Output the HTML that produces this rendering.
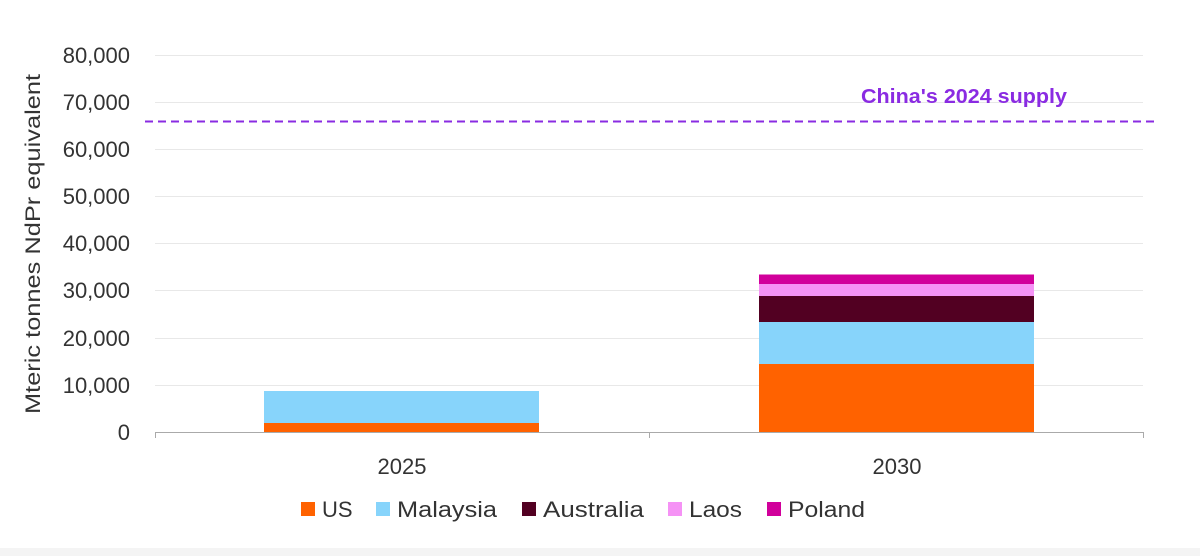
<!DOCTYPE html>
<html><head><style>
html,body{margin:0;padding:0;background:#fff;}
svg{display:block;font-family:"Liberation Sans",sans-serif;}
</style></head><body>
<svg width="1200" height="556" viewBox="0 0 1200 556" xmlns="http://www.w3.org/2000/svg">
<rect width="1200" height="556" fill="#fff"/>
<rect x="0" y="548" width="1200" height="8" fill="#f4f4f4"/>
<g stroke="#e8e8e8" stroke-width="1">
<line x1="155" x2="1143" y1="55.5" y2="55.5"/>
<line x1="155" x2="1143" y1="102.5" y2="102.5"/>
<line x1="155" x2="1143" y1="149.5" y2="149.5"/>
<line x1="155" x2="1143" y1="196.5" y2="196.5"/>
<line x1="155" x2="1143" y1="243.5" y2="243.5"/>
<line x1="155" x2="1143" y1="290.5" y2="290.5"/>
<line x1="155" x2="1143" y1="338.5" y2="338.5"/>
<line x1="155" x2="1143" y1="385.5" y2="385.5"/>
</g>
<g font-size="22" fill="#333" text-anchor="end">
<text x="130" y="63">80,000</text>
<text x="130" y="110">70,000</text>
<text x="130" y="157">60,000</text>
<text x="130" y="204">50,000</text>
<text x="130" y="251">40,000</text>
<text x="130" y="298">30,000</text>
<text x="130" y="346">20,000</text>
<text x="130" y="393">10,000</text>
<text x="130" y="440">0</text>
</g>
<text transform="translate(40,244) rotate(-90)" font-size="21" fill="#333" text-anchor="middle" textLength="340" lengthAdjust="spacingAndGlyphs">Mteric tonnes NdPr equivalent</text>
<rect x="264" y="391" width="275" height="32" fill="#87d4fb"/>
<rect x="264" y="423" width="275" height="9" fill="#ff6200"/>
<rect x="759" y="274.5" width="275" height="9.5" fill="#d1009b"/>
<rect x="759" y="284" width="275" height="12" fill="#f592f5"/>
<rect x="759" y="296" width="275" height="26" fill="#520022"/>
<rect x="759" y="322" width="275" height="42" fill="#87d4fb"/>
<rect x="759" y="364" width="275" height="68" fill="#ff6200"/>
<g stroke="#aaa" stroke-width="1">
<line x1="155" x2="1143" y1="432.5" y2="432.5"/>
<line x1="155.5" x2="155.5" y1="432" y2="438"/>
<line x1="649.5" x2="649.5" y1="432" y2="438"/>
<line x1="1143.5" x2="1143.5" y1="432" y2="438"/>
</g>
<line x1="145" x2="1156" y1="121.5" y2="121.5" stroke="#8a2be2" stroke-width="2" stroke-dasharray="8,5"/>
<text x="861" y="103" font-size="20" font-weight="bold" fill="#8a2be2" textLength="206" lengthAdjust="spacingAndGlyphs">China's 2024 supply</text>
<g font-size="22" fill="#333" text-anchor="middle">
<text x="402" y="474">2025</text>
<text x="897" y="474">2030</text>
</g>
<g font-size="22" fill="#333">
<rect x="301" y="502" width="14" height="14" fill="#ff6200"/><text x="322" y="517">US</text>
<rect x="376" y="502" width="14" height="14" fill="#87d4fb"/><text x="397" y="517" textLength="100" lengthAdjust="spacingAndGlyphs">Malaysia</text>
<rect x="522" y="502" width="14" height="14" fill="#520022"/><text x="543" y="517" textLength="101" lengthAdjust="spacingAndGlyphs">Australia</text>
<rect x="668" y="502" width="14" height="14" fill="#f592f5"/><text x="689" y="517" textLength="53" lengthAdjust="spacingAndGlyphs">Laos</text>
<rect x="767" y="502" width="14" height="14" fill="#d1009b"/><text x="788" y="517" textLength="77" lengthAdjust="spacingAndGlyphs">Poland</text>
</g>
</svg>
</body></html>
